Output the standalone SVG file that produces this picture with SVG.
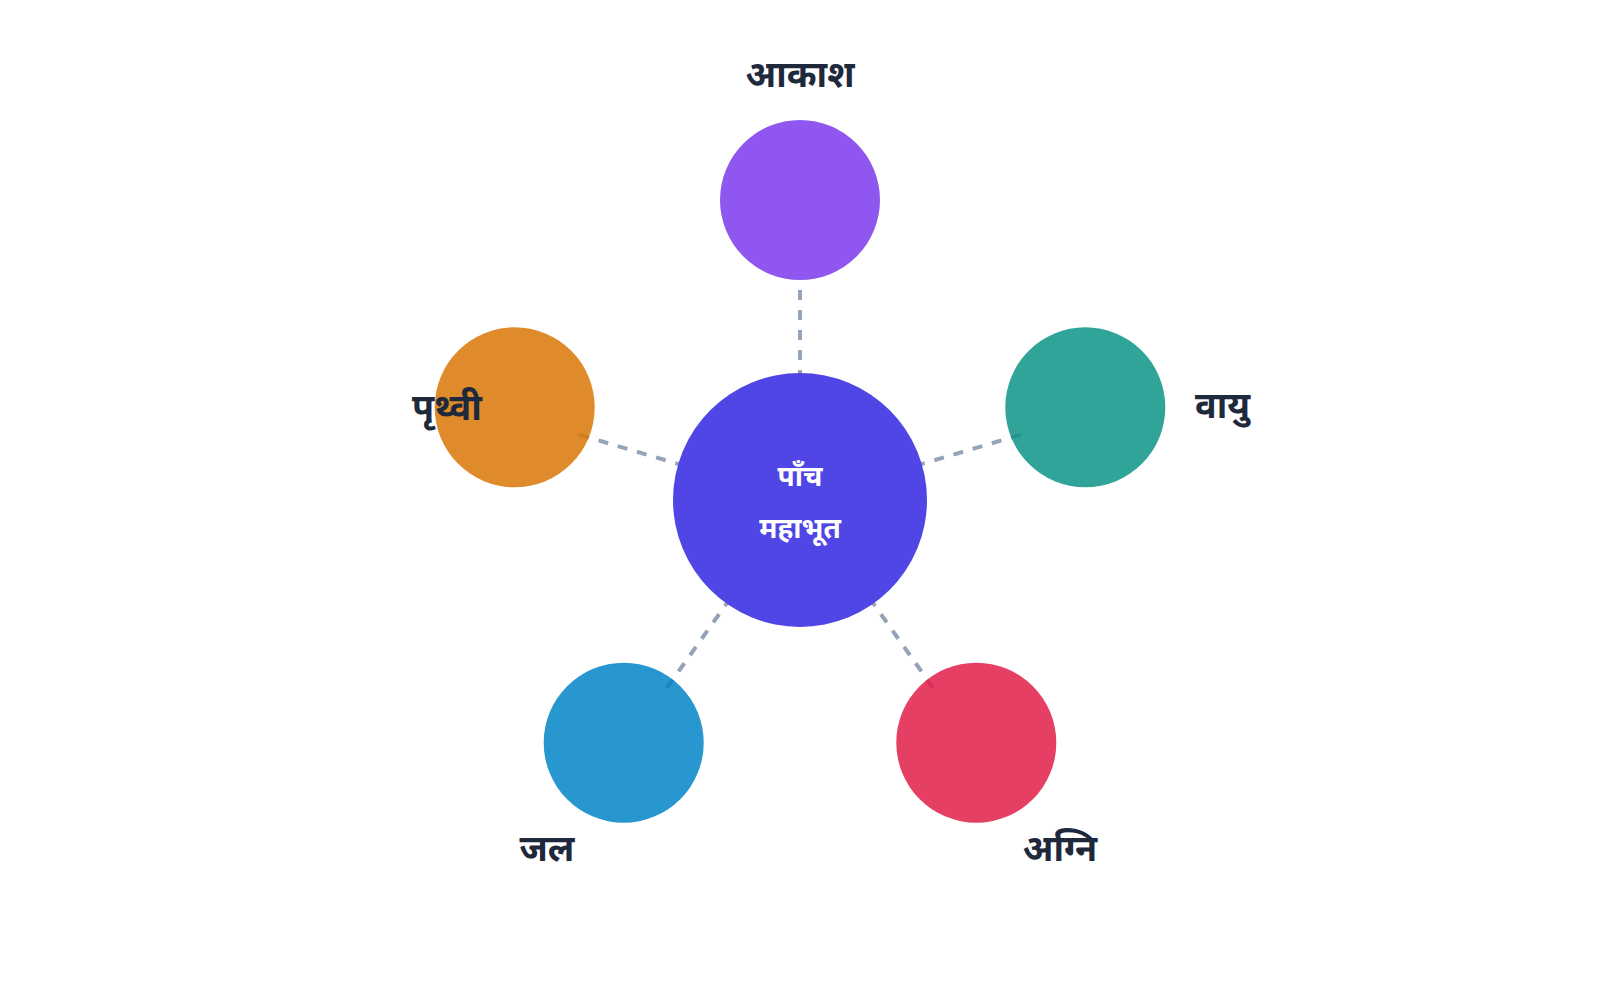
<svg xmlns="http://www.w3.org/2000/svg" width="1600" height="1000" viewBox="0 0 1600 1000">
  <style>
    .link { fill: none; stroke: #94a3b8; stroke-width: 4; stroke-dasharray: 10 10; }
    .el { opacity: 0.85; }
    .lbl { font-family: "Noto Sans", "Liberation Sans", sans-serif; font-weight: 700; font-size: 36px; fill: #1e293b; }
    .ctr { font-family: "Noto Sans", "Liberation Sans", sans-serif; font-weight: 700; font-size: 28px; fill: #ffffff; text-anchor: middle; }
  </style>
  <rect width="1600" height="1000" fill="#ffffff"/>
  <g id="connectors">
    <path class="link" d="M800,280 L800,500" stroke-dashoffset="10"/>
    <path class="link" d="M1020.6,434.7 L800,500"/>
    <path class="link" d="M579.4,434.7 L800,500"/>
    <path class="link" d="M667,687.7 L800,500"/>
    <path class="link" d="M933,687.7 L800,500"/>
  </g>
  <g id="node-center">
    <circle cx="800" cy="500" r="127" fill="#4f46e5"/>
    <text class="ctr" x="800" y="486">पाँच</text>
    <text class="ctr" x="800" y="538">महाभूत</text>
  </g>
  <g id="node-akash">
    <circle class="el" cx="800" cy="200" r="80" fill="#7c3aed"/>
    <text class="lbl" x="800" y="87" text-anchor="middle">आकाश</text>
  </g>
  <g id="node-vayu">
    <circle class="el" cx="1085.3" cy="407.3" r="80" fill="#0d9488"/>
    <text class="lbl" x="1195" y="418">वायु</text>
  </g>
  <g id="node-agni">
    <circle class="el" cx="976.3" cy="742.7" r="80" fill="#e11d48"/>
    <text class="lbl" x="1060" y="861" text-anchor="middle">अग्नि</text>
  </g>
  <g id="node-jal">
    <circle class="el" cx="623.7" cy="742.7" r="80" fill="#0284c7"/>
    <text class="lbl" x="547" y="861" text-anchor="middle">जल</text>
  </g>
  <g id="node-prithvi">
    <circle class="el" cx="514.7" cy="407.3" r="80" fill="#d97706"/>
    <text class="lbl" x="412" y="420">पृथ्वी</text>
  </g>
</svg>
